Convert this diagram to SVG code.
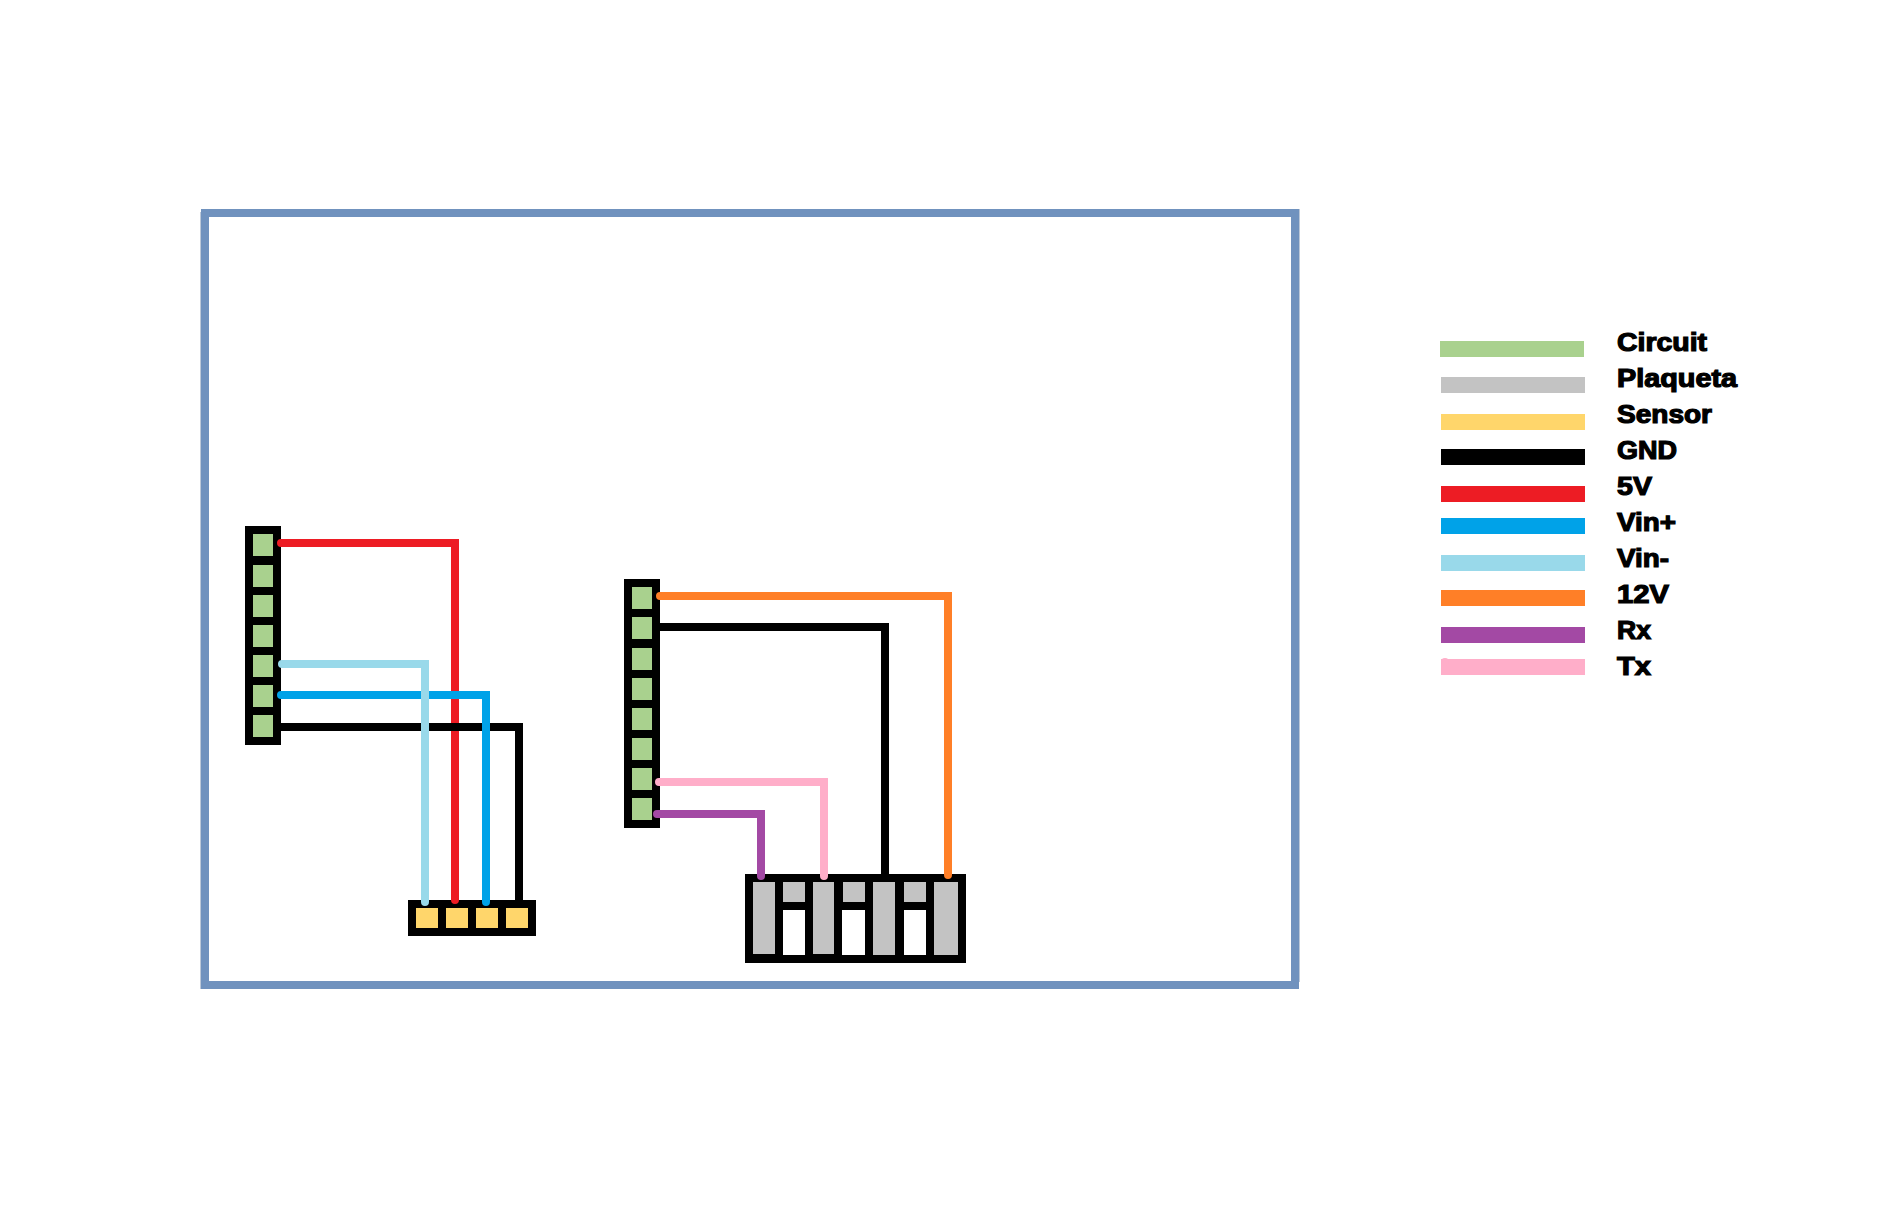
<svg xmlns="http://www.w3.org/2000/svg" width="1880" height="1228" viewBox="0 0 1880 1228">
  <style>
    .body { fill: #000000; }
    .green { fill: #A9D18E; }
    .gray { fill: #C3C3C3; }
    .yellow { fill: #FFD66B; }
    .white { fill: #FFFFFF; }
    .wire { fill: none; stroke-width: 8; stroke-linecap: round; stroke-linejoin: miter; }
    .label { font-family: "Liberation Sans", Arial, sans-serif; font-weight: 700; font-size: 25px; fill: #000000; stroke: #000000; stroke-width: 1.2px; }
  </style>
  <rect width="1880" height="1228" fill="#FFFFFF"/>

  <g id="frame">
    <path d="M200.500 212V989M1299.500 209V982" fill="none" stroke="#BCC8D8" stroke-width="1"/>
    <rect x="205" y="213" width="1090" height="772" fill="none" stroke="#7092BE" stroke-width="8"/>
  </g>

  <g id="circuit-left">
    <rect class="body" x="245" y="526" width="36" height="219"/>
    <rect class="green" x="253" y="534" width="20" height="22"/>
    <rect class="green" x="253" y="565" width="20" height="22"/>
    <rect class="green" x="253" y="595" width="20" height="22"/>
    <rect class="green" x="253" y="625" width="20" height="22"/>
    <rect class="green" x="253" y="655" width="20" height="22"/>
    <rect class="green" x="253" y="685" width="20" height="22"/>
    <rect class="green" x="253" y="715" width="20" height="22"/>
  </g>

  <g id="circuit-right">
    <rect class="body" x="624" y="579" width="36" height="249"/>
    <rect class="green" x="632" y="587" width="20" height="22"/>
    <rect class="green" x="632" y="617" width="20" height="22"/>
    <rect class="green" x="632" y="648" width="20" height="22"/>
    <rect class="green" x="632" y="678" width="20" height="22"/>
    <rect class="green" x="632" y="708" width="20" height="22"/>
    <rect class="green" x="632" y="738" width="20" height="22"/>
    <rect class="green" x="632" y="768" width="20" height="22"/>
    <rect class="green" x="632" y="798" width="20" height="22"/>
  </g>

  <g id="sensor">
    <rect class="body" x="408" y="900" width="128" height="36"/>
    <rect class="yellow" x="416" y="908" width="22" height="20"/>
    <rect class="yellow" x="446" y="908" width="22" height="20"/>
    <rect class="yellow" x="476" y="908" width="22" height="20"/>
    <rect class="yellow" x="506" y="908" width="22" height="20"/>
  </g>

  <g id="plaqueta">
    <rect class="body" x="745" y="874" width="221" height="89"/>
    <rect class="gray" x="753" y="882" width="22" height="72"/>
    <rect class="gray" x="783" y="882" width="22" height="20"/>
    <rect class="white" x="783" y="910" width="22" height="45"/>
    <rect class="gray" x="813" y="882" width="21" height="72"/>
    <rect class="gray" x="843" y="882" width="22" height="20"/>
    <rect class="white" x="842" y="910" width="23" height="45"/>
    <rect class="gray" x="873" y="882" width="22" height="73"/>
    <rect class="gray" x="904" y="882" width="22" height="20"/>
    <rect class="white" x="904" y="910" width="22" height="45"/>
    <rect class="gray" x="934" y="882" width="24" height="73"/>
  </g>

  <g id="connectors">
    <path class="wire" stroke="#ED1C24" d="M281 543H455V900"/>
    <path class="wire" stroke="#000000" d="M281 727H519V900"/>
    <path class="wire" stroke="#00A2E8" d="M281 695H486V902"/>
    <path class="wire" stroke="#99D9EA" d="M282 664H425V902"/>
    <path class="wire" stroke="#FF7F27" d="M660 596H948V875"/>
    <path class="wire" stroke="#000000" d="M660 627H885V874"/>
    <path class="wire" stroke="#FFAEC9" d="M659 782H824V876"/>
    <path class="wire" stroke="#A349A4" d="M657 814H761V876"/>
  </g>

  <g id="legend">
    <g id="legend-circuit"><rect class="green" x="1440" y="341" width="144" height="16"/><text class="label" x="1617" y="351" textLength="90" lengthAdjust="spacingAndGlyphs">Circuit</text></g>
    <g id="legend-plaqueta"><rect fill="#C3C3C3" x="1441" y="377" width="144" height="16"/><text class="label" x="1617" y="387" textLength="120" lengthAdjust="spacingAndGlyphs">Plaqueta</text></g>
    <g id="legend-sensor"><rect class="yellow" x="1441" y="414" width="144" height="16"/><text class="label" x="1617" y="423" textLength="95" lengthAdjust="spacingAndGlyphs">Sensor</text></g>
    <g id="legend-gnd"><rect fill="#000000" x="1441" y="449" width="144" height="16"/><text class="label" x="1617" y="459" textLength="60" lengthAdjust="spacingAndGlyphs">GND</text></g>
    <g id="legend-5v"><rect fill="#ED1C24" x="1441" y="486" width="144" height="16"/><text class="label" x="1617" y="495" textLength="35" lengthAdjust="spacingAndGlyphs">5V</text></g>
    <g id="legend-vinp"><rect fill="#00A2E8" x="1441" y="518" width="144" height="16"/><text class="label" x="1617" y="531" textLength="59" lengthAdjust="spacingAndGlyphs">Vin+</text></g>
    <g id="legend-vinm"><rect fill="#99D9EA" x="1441" y="555" width="144" height="16"/><text class="label" x="1617" y="567" textLength="52" lengthAdjust="spacingAndGlyphs">Vin-</text></g>
    <g id="legend-12v"><rect fill="#FF7F27" x="1441" y="590" width="144" height="16"/><text class="label" x="1617" y="603" textLength="52" lengthAdjust="spacingAndGlyphs">12V</text></g>
    <g id="legend-rx"><rect fill="#A349A4" x="1441" y="627" width="144" height="16"/><text class="label" x="1617" y="639" textLength="34" lengthAdjust="spacingAndGlyphs">Rx</text></g>
    <g id="legend-tx"><rect fill="#FFAEC9" x="1441" y="659" width="144" height="16"/><circle fill="#FFAEC9" cx="1445" cy="662" r="4"/><text class="label" x="1617" y="675" textLength="34" lengthAdjust="spacingAndGlyphs">Tx</text></g>
  </g>
</svg>
